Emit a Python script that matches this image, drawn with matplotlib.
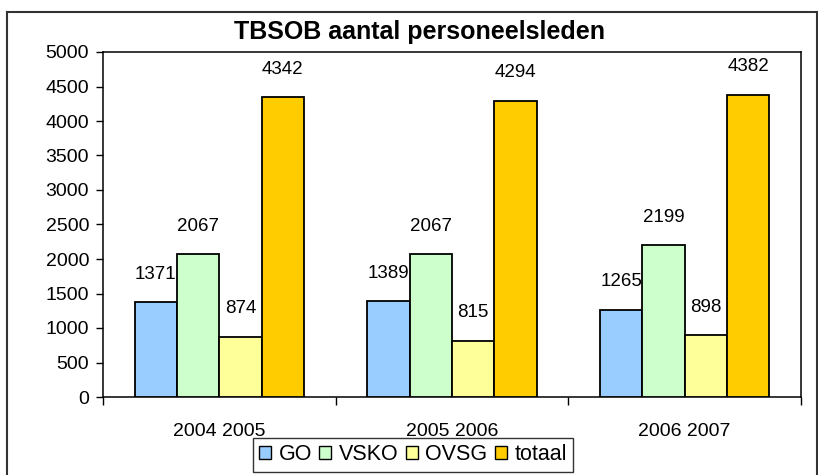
import numpy as np
import matplotlib
matplotlib.use('Agg')
import matplotlib.pyplot as plt
from matplotlib.lines import Line2D

# data
years = ['2004 2005', '2005 2006', '2006 2007']
series = ['GO', 'VSKO', 'OVSG', 'totaal']
go = [1371, 1389, 1265]
vsko = [2067, 2067, 2199]
ovsg = [874, 815, 898]
totaal = [4342, 4294, 4382]
colors = ['#99CCFF', '#CCFFCC', '#FFFF99', '#FFCC00']

plt.rcParams['font.family'] = ['Liberation Sans', 'DejaVu Sans']

fig = plt.figure(figsize=(8.18, 4.75), dpi=100)
ax = fig.add_axes([103/818, 1-397/475, (801-103)/818, (397-52)/475])

x = np.arange(len(years))
w = 1/5.5
for i, (name, vals) in enumerate(zip(series, [go, vsko, ovsg, totaal])):
    pos = x + (i-1.5)*w
    ax.bar(pos, vals, w, color=colors[i], edgecolor='black', linewidth=1.3, label=name, zorder=3)
    for px, v in zip(pos, vals):
        ax.annotate(str(v), (px, v), xytext=(0, 14), textcoords='offset points',
                    ha='center', va='bottom', fontsize=13.5)

ax.set_xlim(-0.5, 2.5)
ax.set_ylim(0, 5000)
ax.set_yticks(np.arange(0, 5001, 500))
ax.tick_params(axis='y', direction='out', length=5, width=1, labelsize=14, pad=5)
ax.set_xticks([-0.5, 0.5, 1.5, 2.5])
ax.set_xticklabels([])
ax.tick_params(axis='x', which='major', direction='out', length=6, width=1)
ax.set_xticks(x, minor=True)
ax.set_xticklabels(years, minor=True)
ax.tick_params(axis='x', which='minor', length=0, labelsize=14, pad=19)
for s in ax.spines.values():
    s.set_linewidth(1.1)

fig.text(420/818, 1-32/475, 'TBSOB aantal personeelsleden', ha='center', va='center',
         fontsize=18, fontweight='bold')

# outer chart frame
for xs, ys in [([7/818, 817/818], [1-12/475, 1-12/475]),
               ([7/818, 7/818], [1-12/475, 0]),
               ([817/818, 817/818], [1-12/475, 0])]:
    fig.add_artist(Line2D(xs, ys, color='#333333', linewidth=1.5, transform=fig.transFigure))

leg = fig.legend(loc='center', bbox_to_anchor=(413/818, 1-455/475), ncol=4, fontsize=15.5,
                 frameon=True, fancybox=False, edgecolor='black', handlelength=0.55,
                 handleheight=0.55, handletextpad=0.35, columnspacing=0.35, borderpad=0.3)
leg.get_frame().set_linewidth(1.0)
for h in leg.legend_handles:
    h.set_linewidth(1.0)

fig.savefig('out.png', dpi=100)
